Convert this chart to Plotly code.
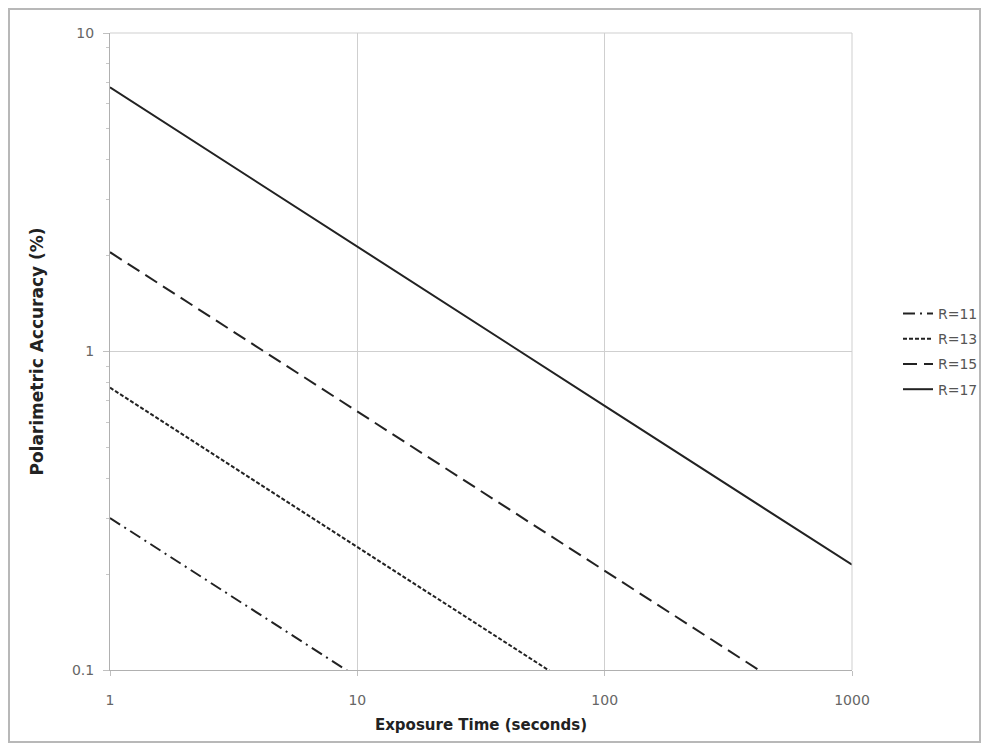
import plotly.graph_objects as go

exposure_time = [1, 10, 100, 1000]
r11 = [0.30, 0.095, 0.030, 0.0095]
r13 = [0.77, 0.243, 0.077, 0.0243]
r15 = [2.05, 0.648, 0.205, 0.0648]
r17 = [6.75, 2.13, 0.675, 0.214]
series_names = ["R=11", "R=13", "R=15", "R=17"]
x_ticks = [1, 10, 100, 1000]
x_tick_labels = ["1", "10", "100", "1000"]
y_ticks = [0.1, 1, 10]
y_tick_labels = ["0.1", "1", "10"]
y_minor_ticks = [0.2, 0.3, 0.4, 0.5, 0.6, 0.7, 0.8, 0.9, 2, 3, 4, 5, 6, 7, 8, 9]

dashes = ["12px,5px,2px,5px", "4px,2px", "14px,7px", "solid"]
series = [r11, r13, r15, r17]

fig = go.Figure()
for name, vals, d in zip(series_names, series, dashes):
    fig.add_trace(go.Scatter(
        x=exposure_time, y=vals, mode="lines", name=name, legendgroup=name,
        line=dict(color="#222222", width=2, dash=d),
    ))

FONT = "DejaVu Sans, Verdana, sans-serif"
# page body has an 8px margin; figure sized to fit the 989x751 window
W, H = 973, 735
L, T = 102, 25
PW, PH = 742, 637
fig.update_layout(
    width=W, height=H,
    margin=dict(l=L, r=W - L - PW, t=T, b=H - T - PH, autoexpand=False),
    paper_bgcolor="white", plot_bgcolor="white",
    font=dict(family=FONT, color="#555555", size=14),
    showlegend=True,
    legend=dict(x=(898 - 110) / PW, xanchor="left", y=0.5, yanchor="middle",
                font=dict(size=14, color="#555555", family=FONT),
                bgcolor="rgba(0,0,0,0)", tracegroupgap=4, itemwidth=30),
    xaxis=dict(
        type="log", range=[0, 3],
        tickvals=x_ticks, ticktext=x_tick_labels,
        showgrid=True, gridcolor="#cfcfcf", gridwidth=1,
        showline=True, linecolor="#b0b0b0", linewidth=1,
        ticks="outside", ticklen=5, tickcolor="#c0c0c0",
        ticklabelstandoff=12,
        tickfont=dict(size=14, color="#666666"),
        title=dict(text="<b>Exposure Time (seconds)</b>", standoff=12,
                   font=dict(size=15, color="#222222")),
        zeroline=False,
    ),
    yaxis=dict(
        type="log", range=[-1, 1],
        tickvals=y_ticks, ticktext=y_tick_labels,
        showgrid=True, gridcolor="#cfcfcf", gridwidth=1,
        showline=True, linecolor="#b0b0b0", linewidth=1,
        ticks="outside", ticklen=6, tickcolor="#c0c0c0",
        ticklabelstandoff=6,
        minor=dict(tickvals=y_minor_ticks, ticks="outside", ticklen=3,
                   tickcolor="#c8c8c8", showgrid=False),
        tickfont=dict(size=14, color="#666666"),
        title=dict(text="<b>Polarimetric Accuracy (%)</b>", standoff=23,
                   font=dict(size=17, color="#222222")),
        zeroline=False,
    ),
)

# top and right edges of plot frame
fig.add_shape(type="line", xref="paper", yref="paper", x0=1, x1=1, y0=0, y1=1,
              line=dict(color="#cfcfcf", width=1))
fig.add_shape(type="line", xref="paper", yref="paper", x0=0, x1=1, y0=1, y1=1,
              line=dict(color="#cfcfcf", width=1))

# outer chart border (in page pixels, converted to paper coords)
def px(xp):
    return (xp - 110) / PW
def py(yp):
    return (670 - yp) / PH
fig.add_shape(type="rect", xref="paper", yref="paper",
              x0=px(9), x1=px(980), y0=py(742), y1=py(9),
              line=dict(color="#b8b8b8", width=2), layer="below")

fig.write_html("out.html")
